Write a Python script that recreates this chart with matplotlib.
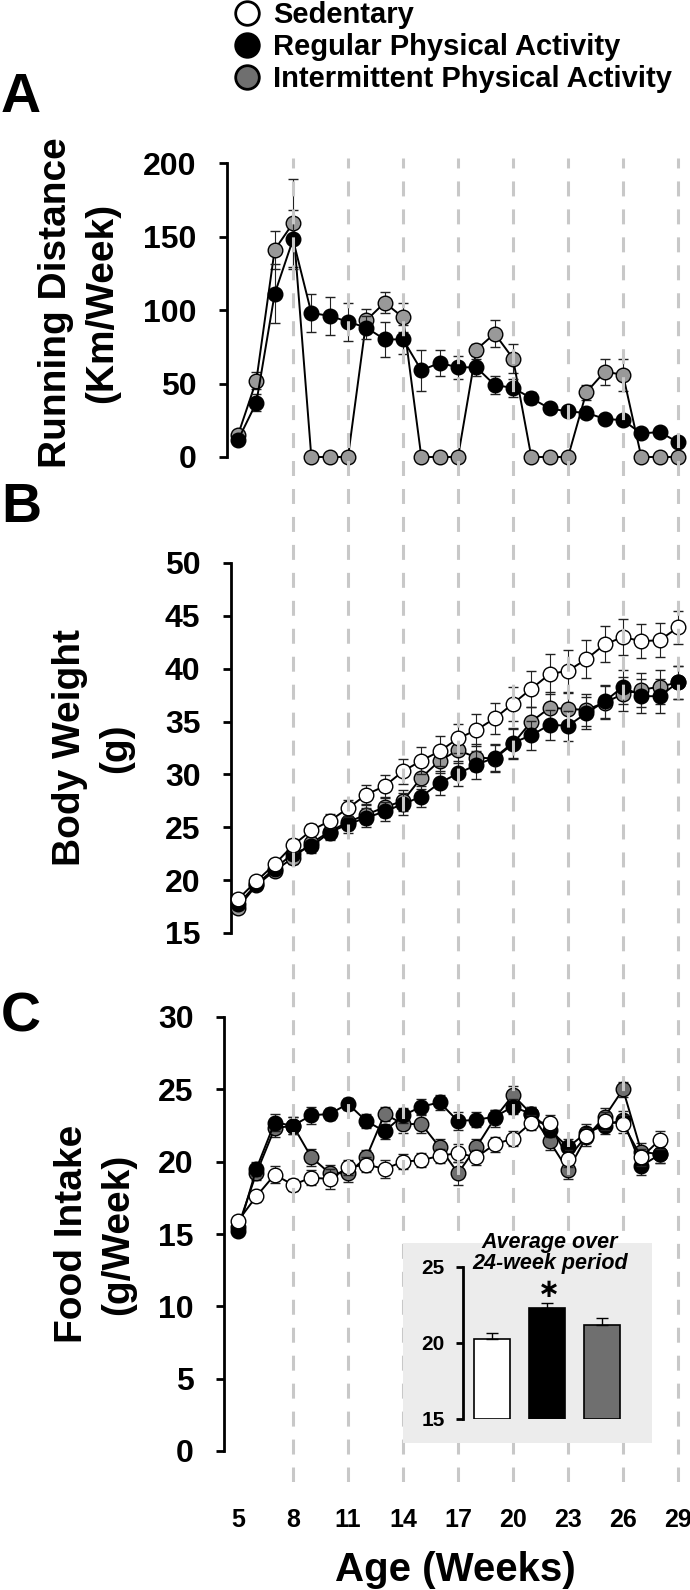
import numpy as np
import matplotlib
matplotlib.use('Agg')
import matplotlib.pyplot as plt
from matplotlib.lines import Line2D
from matplotlib.patches import Rectangle

plt.rcParams['font.family'] = ['Liberation Sans', 'DejaVu Sans']
plt.rcParams['font.weight'] = 'bold'

# ---------------- data ----------------
weeks = np.arange(5, 30)
weeks_food = np.arange(5, 29)
week_ticks = np.arange(5, 30, 3)
dash_weeks = np.arange(8, 30, 3)

groups = ['Sedentary', 'Regular Physical Activity', 'Intermittent Physical Activity']

# A: running distance (km/week)
run_reg = [11.5, 37, 111, 148, 98, 96, 92, 88, 80, 80, 59, 64, 61, 61, 49, 47, 40, 33, 31, 30, 26, 25, 16, 17, 10]
run_reg_err = [2, 6, 20, 20, 13, 13, 13, 8, 12, 10, 14, 9, 8, 6, 6, 6, 4, 3, 3, 3, 3, 3, 2, 2, 2]
run_int = [15, 52, 141, 159, 0, 0, 0, 93, 105, 95, 0, 0, 0, 73, 84, 67, 0, 0, 0, 44, 58, 56, 0, 0, 0]
run_int_err = [3, 6, 13, 30, 0, 0, 0, 8, 7, 10, 0, 0, 0, 4, 9, 10, 0, 0, 0, 5, 9, 11, 0, 0, 0]

# B: body weight (g)
bw_sed = [18.2, 19.9, 21.5, 23.3, 24.7, 25.6, 26.8, 28.1, 28.9, 30.3, 31.3, 32.2, 33.4, 34.2, 35.3,
          36.7, 38.1, 39.5, 39.8, 40.9, 42.3, 43.0, 42.6, 42.7, 43.9]
bw_sed_err = [0.4, 0.4, 0.5, 0.6, 0.6, 0.7, 0.8, 0.9, 1.0, 1.2, 1.3, 1.4, 1.4, 1.5, 1.5,
              1.6, 1.7, 1.9, 2.0, 1.8, 1.7, 1.7, 1.6, 1.6, 1.6]
bw_reg = [17.7, 19.6, 21.1, 22.5, 23.2, 24.5, 25.3, 25.9, 26.5, 27.2, 27.9, 29.2, 30.1, 30.9, 31.6,
          33.0, 33.7, 34.7, 34.6, 35.8, 36.9, 38.3, 37.4, 37.4, 38.7]
bw_reg_err = [0.4, 0.4, 0.5, 0.6, 0.6, 0.7, 0.8, 0.9, 0.9, 1.0, 1.0, 1.1, 1.2, 1.3, 1.3,
              1.4, 1.4, 1.4, 1.4, 1.5, 1.6, 1.6, 1.6, 1.6, 1.6]
bw_int = [17.4, 19.5, 20.9, 22.1, 23.5, 24.6, 25.5, 26.2, 26.9, 27.5, 29.7, 31.3, 32.3, 31.6, 31.5,
          32.9, 35.0, 36.3, 36.2, 36.1, 36.8, 37.6, 38.0, 38.3, 38.7]
bw_int_err = [0.4, 0.4, 0.5, 0.6, 0.6, 0.7, 0.8, 0.9, 0.9, 1.0, 1.1, 1.2, 1.2, 1.3, 1.3,
              1.4, 1.4, 1.5, 1.5, 1.5, 1.6, 1.6, 1.6, 1.6, 1.6]

# C: food intake (g/week)
fi_sed = [15.9, 17.6, 19.1, 18.4, 18.9, 18.8, 19.6, 19.8, 19.5, 20.0, 20.1, 20.4, 20.6, 20.3,
          21.2, 21.6, 22.7, 22.7, 20.2, 21.8, 22.8, 22.6, 20.3, 21.5]
fi_sed_err = [0.3, 0.4, 0.6, 0.4, 0.5, 0.7, 0.5, 0.5, 0.6, 0.5, 0.5, 0.5, 0.6, 0.5,
              0.5, 0.5, 0.5, 0.5, 0.6, 0.5, 0.6, 0.6, 0.6, 0.6]
fi_reg = [15.2, 19.5, 22.7, 22.5, 23.2, 23.3, 24.0, 22.8, 22.1, 23.2, 23.8, 24.1, 22.8, 22.9,
          23.1, 23.8, 23.3, 22.2, 21.0, 22.0, 22.5, 22.9, 19.7, 20.5]
fi_reg_err = [0.3, 0.5, 0.6, 0.6, 0.6, 0.4, 0.4, 0.5, 0.5, 0.5, 0.5, 0.5, 0.6, 0.5,
              0.5, 0.5, 0.5, 0.5, 0.6, 0.6, 0.6, 0.6, 0.6, 0.6]
fi_int = [15.5, 19.2, 22.3, 22.5, 20.3, 19.2, 19.2, 20.3, 23.3, 22.6, 22.6, 21.0, 19.2, 21.0,
          23.0, 24.6, 23.3, 21.4, 19.4, 21.7, 23.1, 25.0, 20.7, 20.5]
fi_int_err = [0.3, 0.5, 0.6, 0.6, 0.6, 0.6, 0.6, 0.5, 0.5, 0.6, 0.6, 0.6, 0.8, 0.6,
              0.6, 0.6, 0.5, 0.6, 0.6, 0.6, 0.6, 0.5, 0.6, 0.6]

# inset: average over 24 weeks
avg_food = [20.25, 22.3, 21.2]
avg_food_err = [0.4, 0.35, 0.45]

# ---------------- layout helpers (pixels) ----------------
W, H = 690, 1590
fig = plt.figure(figsize=(W / 100, H / 100), dpi=100)


def box(left, top, right, bottom):
    return [left / W, 1 - bottom / H, (right - left) / W, (bottom - top) / H]


PX_WK = (678 - 238) / 24.0


def xlims(left, right):
    return (5 + (left - 238) / PX_WK, 5 + (right - 238) / PX_WK)


def style(ax, left, right, ylim, yticks):
    ax.set_facecolor('none')
    for s in ['top', 'right', 'bottom']:
        ax.spines[s].set_visible(False)
    ax.spines['left'].set_linewidth(2)
    ax.set_xlim(*xlims(left, right))
    ax.set_ylim(*ylim)
    ax.set_yticks(yticks)
    ax.tick_params(axis='y', length=6, width=2, pad=16, labelsize=23)
    ax.tick_params(axis='x', length=0)
    ax.set_xticks([])


def series(ax, x, y, e, fc, z):
    c = ax.errorbar(x, y, yerr=e, fmt='-o', color='black', lw=1.4, ms=10.5,
                    mfc=fc, mec='black', mew=1.0, ecolor='#222222', elinewidth=0.8,
                    capsize=3.6, capthick=0.8, zorder=z)
    for art in c.get_children():
        art.set_clip_on(False)


GRAY = '#999999'
GRAY_DARK = '#6f6f6f'

# ---------------- panel A ----------------
axA = fig.add_axes(box(227, 163, 686, 457))
style(axA, 227, 686, (0, 200), [0, 50, 100, 150, 200])
series(axA, weeks, run_int, run_int_err, GRAY, 3)
series(axA, weeks, run_reg, run_reg_err, 'black', 4)

# ---------------- panel B ----------------
axB = fig.add_axes(box(231, 563, 686, 933))
style(axB, 231, 686, (15, 50), np.arange(15, 51, 5))
series(axB, weeks, bw_int, bw_int_err, GRAY, 3)
series(axB, weeks, bw_reg, bw_reg_err, 'black', 4)
series(axB, weeks, bw_sed, bw_sed_err, 'white', 5)

# ---------------- panel C ----------------
axC = fig.add_axes(box(224, 1017, 686, 1451))
style(axC, 224, 686, (0, 30), np.arange(0, 31, 5))
series(axC, weeks_food, fi_int, fi_int_err, GRAY_DARK, 3)
series(axC, weeks_food, fi_reg, fi_reg_err, 'black', 4)
series(axC, weeks_food, fi_sed, fi_sed_err, 'white', 5)
axC.set_xticks(week_ticks)
axC.tick_params(axis='x', length=0, pad=41, labelsize=18)

# dashed guide lines drawn over the panels
ov = fig.add_axes(box(227, 158, 686, 1482))
ov.set_xlim(*xlims(227, 686))
ov.set_ylim(0, 1)
ov.axis('off')
ov.vlines(dash_weeks, 0, 1, colors='#c8c8c8', lw=2.2, linestyles=(0, (4.9, 4.25)))

# ---------------- inset ----------------
fig.add_artist(Rectangle((403 / W, 1 - 1443 / H), (652 - 403) / W, 200 / H,
                         transform=fig.transFigure, facecolor='#ececec',
                         edgecolor='none', zorder=1))
axI = fig.add_axes(box(463, 1267, 640, 1419))
axI.set_zorder(2)
axI.set_facecolor('none')
for s in ['top', 'right', 'bottom']:
    axI.spines[s].set_visible(False)
axI.spines['left'].set_linewidth(2)
xi = np.arange(3)
axI.bar(xi, np.array(avg_food) - 15, bottom=15, width=0.67,
        color=['white', 'black', GRAY_DARK], edgecolor='black', linewidth=1.2)
axI.errorbar(xi, avg_food, yerr=[[0, 0, 0], avg_food_err], fmt='none',
             ecolor='black', elinewidth=1, capsize=4, capthick=1)
axI.set_xlim(-29 / 55, (640 - 492) / 55)
axI.set_ylim(15, 25)
axI.set_yticks([15, 20, 25])
axI.set_xticks([])
axI.tick_params(axis='y', length=5, width=2, pad=8, labelsize=15)
axI.annotate(r'$\ast$', (1, avg_food[1] + avg_food_err[1]), xytext=(0, 0.5),
             textcoords='offset points', ha='center', va='bottom', fontsize=19)
fig.text(550 / W, 1 - 1253 / H, 'Average over\n24-week period', ha='center', va='center',
         fontsize=15.5, style='italic', linespacing=1.0)

# ---------------- labels ----------------
def ylab(text, x, y):
    fig.text(x / W, 1 - y / H, text, rotation=90, rotation_mode='anchor',
             ha='center', va='baseline', fontsize=28)


ylab('Running Distance', 66, 303)
ylab('(Km/Week)', 112, 303)
ylab('Body Weight', 80, 748)
ylab('(g)', 126, 748)
ylab('Food Intake', 82, 1234)
ylab('(g/Week)', 128, 1234)

for letter, yb in zip(['A', 'B', 'C'], [112, 522, 1032]):
    fig.text(1 / W, 1 - yb / H, letter, fontsize=40, ha='left', va='baseline')

fig.text(455 / W, 1 - 1570 / H, 'Age (Weeks)', ha='center', va='center', fontsize=29)

# legend
handles = [Line2D([], [], ls='none', marker='o', ms=17, mew=2, mec='black', mfc=fc)
           for fc in ['white', 'black', GRAY_DARK]]
fig.legend(handles, groups, loc='upper left', bbox_to_anchor=(234 / W, 1 - 1 / H),
           frameon=False, fontsize=21, handlelength=0.9, handletextpad=0.45,
           labelspacing=0.14, borderpad=0, borderaxespad=0)

fig.savefig('out.png', dpi=100)
